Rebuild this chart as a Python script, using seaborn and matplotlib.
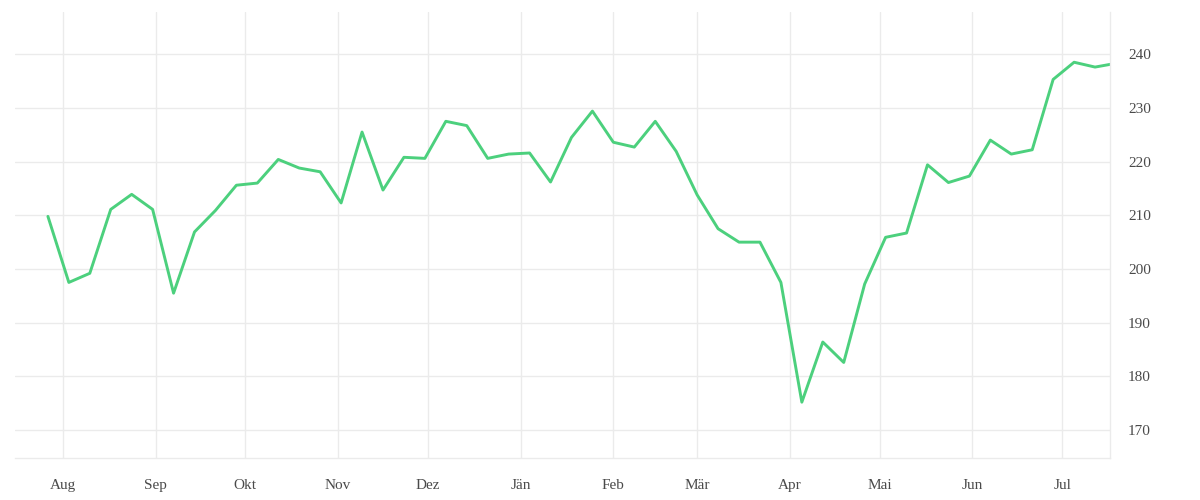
import matplotlib
matplotlib.use("Agg")
import matplotlib.pyplot as plt
import matplotlib.dates as mdates
import numpy as np
import pandas as pd
import seaborn as sns

# ---- data ----
start_date = "2017-07-27"
n_weekly = 51
last_date = "2018-07-17"
values = [209.8, 197.5, 199.2, 211.1, 213.9, 211.1, 195.5, 206.9, 210.9, 215.6,
          216.0, 220.4, 218.8, 218.1, 212.3, 225.5, 214.7, 220.8, 220.6, 227.5,
          226.7, 220.6, 221.4, 221.6, 216.2, 224.5, 229.4, 223.6, 222.7, 227.5,
          221.9, 213.8, 207.5, 205.0, 205.0, 197.5, 175.2, 186.4, 182.6, 197.2,
          205.9, 206.7, 219.4, 216.1, 217.3, 224.0, 221.4, 222.2, 235.3, 238.5,
          237.6, 238.1]
month_starts = ["2017-08-01", "2017-09-01", "2017-10-01", "2017-11-01", "2017-12-01",
                "2018-01-01", "2018-02-01", "2018-03-01", "2018-04-01", "2018-05-01",
                "2018-06-01", "2018-07-01"]
month_labels = ["Aug", "Sep", "Okt", "Nov", "Dez", "Jän", "Feb", "Mär", "Apr", "Mai",
                "Jun", "Jul"]
y_ticks = [170, 180, 190, 200, 210, 220, 230, 240]

dates = list(pd.date_range(start_date, periods=n_weekly, freq="7D")) + [pd.Timestamp(last_date)]
df = pd.DataFrame({"date": dates, "value": values})

sns.set_theme(style="white")
plt.rcParams["font.family"] = ["Liberation Serif", "DejaVu Serif"]

fig = plt.figure(figsize=(12, 5), dpi=100)
ax = fig.add_axes([0.0125, 0.0834, 0.9125, 0.892])

sns.lineplot(data=df, x="date", y="value", ax=ax, color="#4cd07d", linewidth=2.1)

grid_c = "#ebebeb"
ax.set_xlim(pd.Timestamp("2017-07-16"), pd.Timestamp(last_date))
ax.set_ylim(164.75, 247.8)

ax.set_xticks(pd.to_datetime(month_starts))
ax.set_xticklabels(month_labels)
ax.set_xticks([mdates.date2num(pd.Timestamp(last_date))], minor=True)
ax.set_yticks(y_ticks)
ax.set_yticklabels([str(v) for v in y_ticks])

ax.yaxis.tick_right()
ax.grid(True, axis="both", color=grid_c, linewidth=1)
ax.tick_params(axis="x", which="both", length=7.2, width=1, color=grid_c, pad=8,
               labelsize=11, labelcolor="#4a4a4a")
ax.tick_params(axis="y", length=0, pad=13, labelsize=11, labelcolor="#4a4a4a")

for s in ["top", "left"]:
    ax.spines[s].set_visible(False)
for s in ["bottom", "right"]:
    ax.spines[s].set_color(grid_c)
    ax.spines[s].set_linewidth(1)

ax.set_xlabel("")
ax.set_ylabel("")

fig.savefig("out.png", dpi=100, facecolor="white")
